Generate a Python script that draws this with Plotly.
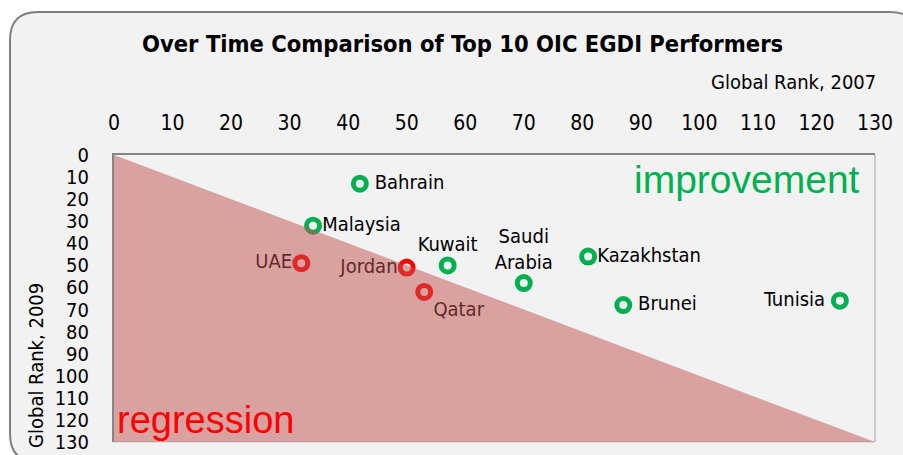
import plotly.graph_objects as go

# ---- data ----
countries = [" Bahrain", "Malaysia", "UAE", "Jordan", "Qatar", "Kuwait",
             "Saudi<br>Arabia", "Kazakhstan", " Brunei", "Tunisia "]
rank_2007 = [42, 34, 32, 50, 53, 57, 70, 81, 87, 124]
rank_2009 = [13, 32, 49, 51, 62, 50, 58, 46, 68, 66]
label_pos = ["middle right", "middle right", "middle left", "middle left",
             "bottom right", "top center", "top center", "middle right",
             "middle right", "middle left"]
axis_ticks = list(range(0, 131, 10))
axis_max = 130

GREEN = "#00B050"
RED = "#FF0000"
marker_colors = [GREEN if r9 <= r7 else RED for r7, r9 in zip(rank_2007, rank_2009)]

W, H = 903, 455
L, R, T, B = 114, 875, 155, 442


def px(X):
    return (X - L) / (R - L)


def py(Y):
    return (B - Y) / (B - T)


NARROW = "DejaVu Sans Condensed, Liberation Sans Narrow, sans-serif"
SANS = "Liberation Sans, Arial, sans-serif"

fig = go.Figure()
fig.add_trace(go.Scatter(
    x=rank_2007, y=rank_2009, text=countries, mode="markers+text",
    textposition=label_pos,
    textfont=dict(family=NARROW, size=20, color="#000000"),
    marker=dict(symbol="circle", size=13, color="rgba(0,0,0,0)",
                line=dict(color=marker_colors, width=5)),
    cliponaxis=False, showlegend=False, hoverinfo="skip",
))

# rounded chart frame
x0, y0, x1, y1, rad = 10, 12, 918, 462, 28
path = (f"M {px(x0+rad)},{py(y0)} L {px(x1-rad)},{py(y0)} "
        f"Q {px(x1)},{py(y0)} {px(x1)},{py(y0+rad)} L {px(x1)},{py(y1-rad)} "
        f"Q {px(x1)},{py(y1)} {px(x1-rad)},{py(y1)} L {px(x0+rad)},{py(y1)} "
        f"Q {px(x0)},{py(y1)} {px(x0)},{py(y1-rad)} L {px(x0)},{py(y0+rad)} "
        f"Q {px(x0)},{py(y0)} {px(x0+rad)},{py(y0)} Z")
shapes = [
    dict(type="path", xref="paper", yref="paper", path=path,
         fillcolor="#F2F2F2", line=dict(color="#7F7F7F", width=2), layer="below"),
    # right and bottom plot-area borders
    dict(type="line", xref="paper", yref="paper", x0=1, x1=1, y0=0, y1=1,
         line=dict(color="#BFBFBF", width=1.5), layer="below"),
    dict(type="line", xref="paper", yref="paper", x0=0, x1=1, y0=0, y1=0,
         line=dict(color="#D9D9D9", width=1.5), layer="below"),
    # regression region (below the diagonal of equal ranks)
    dict(type="path", xref="x", yref="y",
         path=f"M 0,0 L {axis_max},{axis_max} L 0,{axis_max} Z",
         fillcolor="rgba(192,80,77,0.5)", line=dict(width=0), layer="above"),
]

annotations = [
    dict(text="<b>Over Time Comparison of Top 10 OIC EGDI Performers</b>",
         x=px(462), y=py(44), xref="paper", yref="paper", showarrow=False,
         xanchor="center", yanchor="middle",
         font=dict(family=NARROW, size=23.5, color="#000000")),
    dict(text="Global Rank, 2007", x=px(878), y=py(82), xref="paper", yref="paper",
         showarrow=False, xanchor="right", yanchor="middle",
         font=dict(family=NARROW, size=20, color="#000000")),
    dict(text="Global Rank, 2009", x=px(36), y=py(366), xref="paper", yref="paper",
         showarrow=False, xanchor="center", yanchor="middle", textangle=-90,
         font=dict(family=NARROW, size=20, color="#000000")),
    dict(text="improvement", x=px(862), y=py(179), xref="paper", yref="paper",
         showarrow=False, xanchor="right", yanchor="middle",
         font=dict(family=SANS, size=39, color=GREEN)),
    dict(text="regression", x=px(115), y=py(420), xref="paper", yref="paper",
         showarrow=False, xanchor="left", yanchor="middle",
         font=dict(family=SANS, size=38, color=RED)),
]

fig.update_layout(
    width=W, height=H, autosize=False,
    margin=dict(l=L, r=W - R, t=T, b=H - B, pad=0, autoexpand=False),
    paper_bgcolor="#FFFFFF", plot_bgcolor="rgba(0,0,0,0)",
    shapes=shapes, annotations=annotations,
    xaxis=dict(range=[0, axis_max], side="top", tickvals=axis_ticks,
               automargin=False,
               showgrid=False, zeroline=False, showline=True,
               linecolor="#868686", linewidth=2, ticks="",
               ticklabelstandoff=15,
               tickfont=dict(family=NARROW, size=21, color="#000000")),
    yaxis=dict(range=[axis_max, 0], tickvals=axis_ticks,
               automargin=False,
               showgrid=False, zeroline=False, showline=True,
               linecolor="#868686", linewidth=2, ticks="",
               ticklabelstandoff=19,
               tickfont=dict(family=NARROW, size=20, color="#000000")),
    showlegend=False,
)

fig.write_html(
    "out.html",
    config={"responsive": False, "displayModeBar": False},
    post_script=("document.body.style.margin='0';"
                 "document.body.style.overflow='hidden';"
                 "Plotly.relayout('{plot_id}', {width: 903, height: 455});"),
)
